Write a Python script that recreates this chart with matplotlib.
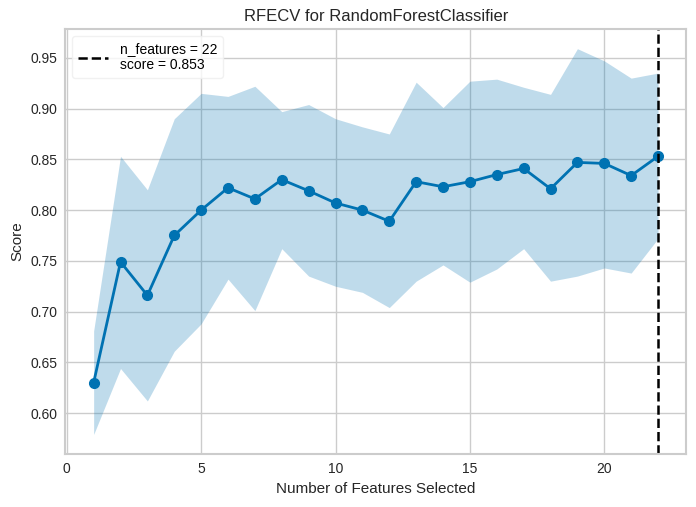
import numpy as np
import matplotlib
matplotlib.use("Agg")
import matplotlib.pyplot as plt

n_features = list(range(1, 23))
mean_score = [0.630, 0.749, 0.716, 0.775, 0.800, 0.822, 0.811, 0.830, 0.819, 0.807, 0.800,
              0.789, 0.828, 0.823, 0.828, 0.835, 0.841, 0.821, 0.847, 0.846, 0.834, 0.853]
upper = [0.681, 0.853, 0.820, 0.890, 0.915, 0.912, 0.922, 0.897, 0.904, 0.890, 0.882,
         0.875, 0.926, 0.901, 0.927, 0.929, 0.921, 0.914, 0.959, 0.947, 0.930, 0.935]
lower = [0.579, 0.644, 0.612, 0.661, 0.688, 0.732, 0.701, 0.762, 0.735, 0.725, 0.719,
         0.704, 0.730, 0.746, 0.729, 0.742, 0.762, 0.730, 0.735, 0.743, 0.738, 0.772]
best_n = 22
best_score = 0.853

plt.rcParams['font.family'] = ['Liberation Sans', 'DejaVu Sans']

fig = plt.figure(figsize=(6.96, 5.07), dpi=100)
ax = fig.add_axes([0.094, 0.105, 0.892, 0.837])

color = '#0072B2'
ax.fill_between(n_features, lower, upper, color=color, alpha=0.25, lw=0)
ax.plot(n_features, mean_score, marker='o', color=color, lw=2, ms=7)
ax.axvline(best_n, color='black', ls='--', lw=1.8,
           label='n_features = {}\nscore = {:.3f}'.format(best_n, best_score))

ax.set_title('RFECV for RandomForestClassifier', fontsize=12, color='#262626')
ax.set_xlabel('Number of Features Selected', fontsize=11, color='#262626')
ax.set_ylabel('Score', fontsize=11, color='#262626')
ax.set_xticks([0, 5, 10, 15, 20])
ax.set_yticks([0.60, 0.65, 0.70, 0.75, 0.80, 0.85, 0.90, 0.95])
ax.tick_params(labelsize=10, colors='#262626', length=0, pad=6)
ax.set_facecolor('white')
ax.grid(True, color='#cccccc', lw=1)
ax.set_axisbelow(True)
for s in ax.spines.values():
    s.set_color('#cccccc')
    s.set_linewidth(1.5)

leg = ax.legend(loc='upper left', frameon=True, fontsize=10, handlelength=2.2)
leg.get_frame().set_edgecolor('#eeeeee')

fig.savefig('out.png', dpi=100)
